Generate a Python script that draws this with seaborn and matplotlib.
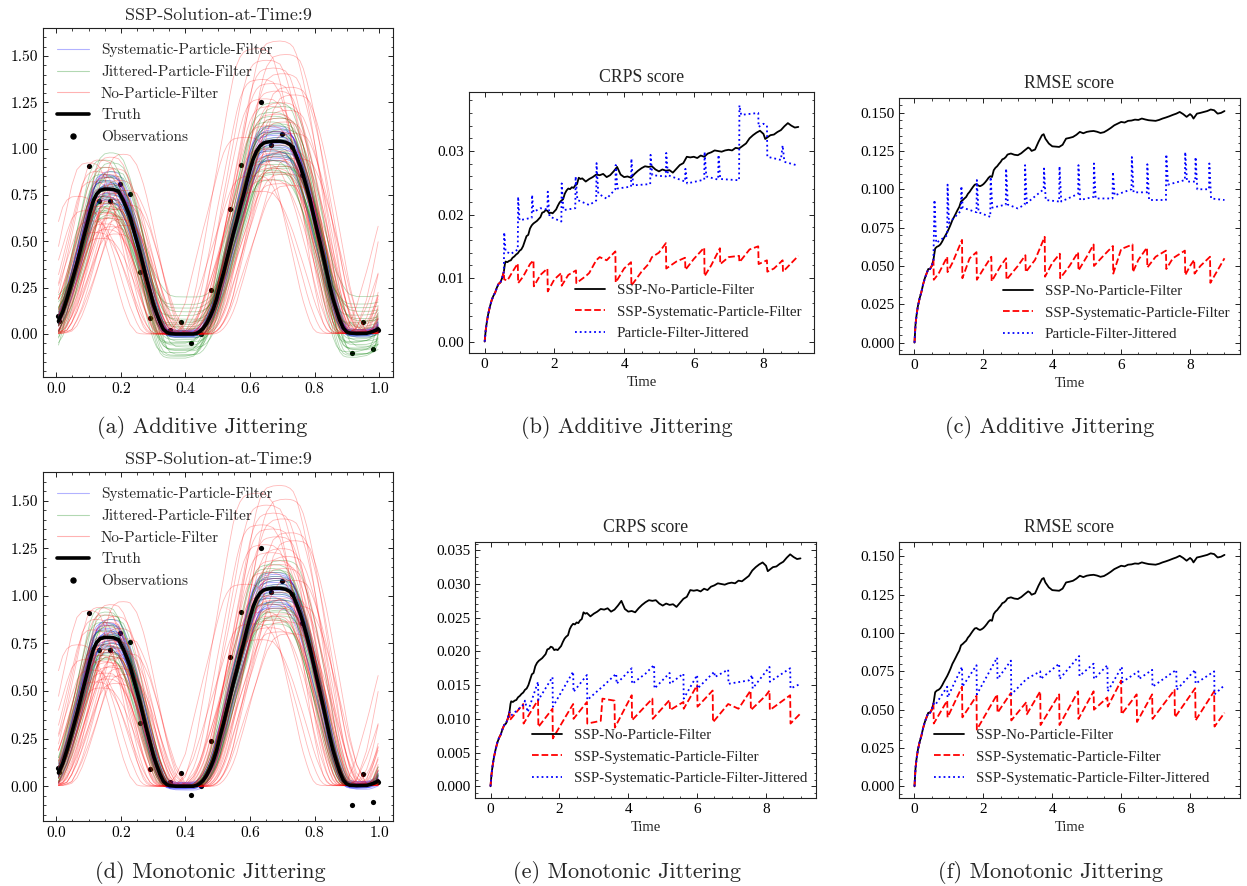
import numpy as np
import pandas as pd
import matplotlib
matplotlib.use("Agg")
import matplotlib.pyplot as plt
import seaborn as sns
from matplotlib.lines import Line2D
from matplotlib.ticker import AutoMinorLocator

# ------------------------------------------------------------------ data
truth_x = [0.007, 0.02, 0.033, 0.048, 0.064, 0.08, 0.095, 0.105, 0.115, 0.125, 0.136, 0.15, 0.165,
           0.177, 0.193, 0.208, 0.22, 0.229, 0.249, 0.26, 0.27, 0.28, 0.291, 0.301, 0.311, 0.322,
           0.332, 0.343, 0.353, 0.37, 0.4, 0.425, 0.435, 0.445, 0.455, 0.466, 0.477, 0.487, 0.497,
           0.507, 0.518, 0.528, 0.538, 0.548, 0.559, 0.569, 0.58, 0.59, 0.60, 0.61, 0.62, 0.631,
           0.642, 0.652, 0.672, 0.693, 0.71, 0.724, 0.734, 0.744, 0.755, 0.765, 0.776, 0.786, 0.796,
           0.806, 0.817, 0.827, 0.837, 0.847, 0.857, 0.868, 0.878, 0.889, 0.899, 0.909, 0.93, 0.961,
           0.971, 0.981, 0.99, 0.997]
truth_y = [0.07, 0.12, 0.19, 0.28, 0.38, 0.49, 0.59, 0.66, 0.72, 0.755, 0.775, 0.782, 0.782,
           0.78, 0.77, 0.72, 0.67, 0.63, 0.505, 0.435, 0.365, 0.295, 0.225, 0.16, 0.11, 0.06,
           0.025, 0.008, 0.002, 0.0, 0.0, 0.0, 0.004, 0.014, 0.03, 0.058, 0.095, 0.137, 0.19,
           0.26, 0.33, 0.40, 0.47, 0.54, 0.61, 0.68, 0.75, 0.82, 0.885, 0.944, 0.985, 1.014,
           1.03, 1.035, 1.04, 1.04, 1.035, 1.023, 1.0, 0.96, 0.91, 0.856, 0.79, 0.725, 0.65,
           0.575, 0.495, 0.418, 0.34, 0.26, 0.19, 0.128, 0.075, 0.032, 0.012, 0.005, 0.003, 0.004,
           0.008, 0.014, 0.02, 0.028]

obs_x = [0.007, 0.009, 0.102, 0.133, 0.165, 0.196, 0.229, 0.258, 0.291, 0.353, 0.385, 0.417, 0.447,
         0.478, 0.538, 0.571, 0.634, 0.666, 0.698, 0.729, 0.76, 0.917, 0.949, 0.98, 0.995]
obs_y = [0.096, 0.072, 0.909, 0.716, 0.716, 0.807, 0.756, 0.333, 0.088, 0.023, 0.067, -0.047, 0.0,
         0.237, 0.677, 0.914, 1.251, 1.019, 1.079, 1.009, 0.86, -0.1, 0.065, -0.082, 0.023]

# ensemble members (estimated spread: phase shift, amplitude of first / second bump, valley offset)
red_shift = [-0.095, -0.07, -0.06, -0.05, -0.045, -0.04, -0.035, -0.03, -0.028, -0.025, -0.02, -0.017,
             -0.015, -0.012, -0.01, -0.008, -0.006, -0.004, -0.002, 0.0, 0.002, 0.004, 0.006, 0.008,
             0.01, 0.012, 0.015, 0.018, 0.02, 0.022, 0.025, 0.028, 0.03, 0.034, 0.038, 0.042, 0.046,
             0.05, 0.055, 0.062]
red_amp1 = [0.95, 0.85, 1.18, 0.78, 1.05, 0.7, 1.12, 0.88, 0.92, 1.2, 0.66, 0.84, 1.0, 1.15, 0.76,
            0.95, 1.08, 0.72, 0.9, 0.83, 1.1, 0.8, 0.98, 1.22, 0.87, 0.74, 1.03, 0.93, 0.81, 1.14,
            0.69, 0.97, 0.86, 1.06, 0.79, 0.91, 1.24, 0.75, 0.99, 0.89]
red_amp2 = [1.02, 0.82, 1.48, 0.74, 1.32, 0.88, 1.22, 0.96, 1.42, 1.08, 0.8, 1.18, 0.92, 1.3, 0.86,
            1.38, 1.0, 0.84, 1.14, 0.94, 1.26, 1.05, 0.9, 1.52, 1.12, 0.78, 1.2, 0.98, 1.35, 0.87,
            1.1, 1.45, 0.83, 1.16, 0.95, 1.28, 0.77, 1.04, 1.24, 0.91]

grnA_shift = [-0.022, -0.018, -0.015, -0.012, -0.01, -0.008, -0.006, -0.004, -0.002, 0.0, 0.001, 0.003,
              0.005, 0.007, 0.009, 0.011, 0.013, 0.015, 0.018, 0.021, -0.014, -0.007, 0.004, 0.012,
              -0.003, 0.008, -0.011, 0.016, -0.005, 0.002]
grnA_amp1 = [0.95, 1.1, 0.85, 1.2, 0.9, 1.05, 0.8, 1.0, 1.15, 0.88, 1.02, 0.93, 1.08, 0.82, 1.25,
             0.97, 0.86, 1.12, 1.0, 0.9, 1.06, 0.84, 0.96, 1.18, 0.91, 1.03, 0.87, 1.09, 0.94, 0.99]
grnA_amp2 = [0.9, 1.1, 0.85, 1.15, 0.95, 1.05, 0.8, 1.0, 1.2, 0.88, 0.98, 1.08, 0.92, 0.84, 1.12,
             1.02, 0.87, 1.18, 0.94, 1.06, 0.96, 1.13, 0.83, 1.01, 0.9, 1.09, 0.97, 0.86, 1.04, 0.93]
grnA_off = [-0.1, -0.05, 0.02, -0.12, 0.06, -0.08, 0.1, -0.03, 0.0, -0.06, 0.04, -0.09, 0.14, -0.02,
            -0.11, 0.08, -0.04, 0.2, -0.07, 0.03, -0.13, 0.05, -0.01, 0.12, -0.085, 0.01, -0.045, 0.07,
            -0.115, 0.16]

grnD_shift = [-0.02, -0.016, -0.013, -0.01, -0.008, -0.006, -0.004, -0.002, 0.0, 0.002, 0.004, 0.006,
              0.008, 0.01, 0.013, 0.016, 0.019, -0.012, 0.003, -0.005, 0.011, 0.007, -0.009, 0.001]
grnD_amp1 = [0.95, 1.1, 0.88, 1.2, 0.92, 1.05, 0.85, 1.0, 1.15, 0.9, 1.02, 0.96, 1.08, 0.87, 1.12,
             0.98, 0.93, 1.04, 0.89, 1.17, 0.94, 1.01, 0.86, 1.07]
grnD_amp2 = [0.92, 1.1, 0.85, 1.12, 0.95, 1.05, 0.82, 1.0, 1.08, 0.88, 0.98, 1.04, 0.9, 0.86, 1.02,
             0.94, 1.14, 0.84, 0.97, 1.06, 0.89, 1.01, 0.93, 1.09]

blu_shift = [-0.012, -0.009, -0.007, -0.005, -0.003, -0.001, 0.0, 0.002, 0.004, 0.006, 0.008, 0.01,
             0.012, -0.004, 0.003, -0.008, 0.007, 0.001, -0.002, 0.005]
blu_amp1 = [0.95, 1.05, 0.92, 1.1, 1.0, 0.97, 1.08, 0.94, 1.02, 1.12, 0.9, 1.04, 0.98, 1.06, 0.93,
            1.01, 0.96, 1.09, 0.99, 1.03]
blu_amp2 = [0.95, 1.05, 0.9, 1.08, 1.0, 0.93, 1.06, 0.97, 1.02, 0.91, 1.04, 0.99, 0.94, 1.07, 0.96,
            1.03, 0.92, 1.01, 0.98, 1.05]
blu_off = [0.01, -0.01, 0.02, 0.0, -0.015, 0.015, 0.005, -0.005, 0.0, 0.01, -0.02, 0.02, -0.01, 0.0,
           0.012, -0.008, 0.004, -0.012, 0.008, -0.003]

# ---- time series
early_t = [0, 0.03, 0.06, 0.1, 0.15, 0.2, 0.25, 0.3, 0.35, 0.4, 0.45, 0.5, 0.55]
crps_early = [0, 0.0018, 0.003, 0.0043, 0.0055, 0.0065, 0.0072, 0.0077, 0.0085, 0.0091, 0.0093, 0.0100, 0.0110]
rmse_early = [0, 0.012, 0.018, 0.024, 0.029, 0.033, 0.038, 0.042, 0.045, 0.048, 0.048, 0.050, 0.054]

crps_nopf_t = [0.58, 0.6, 0.65, 0.7, 0.75, 0.8, 0.85, 0.9, 0.95, 1.0, 1.05, 1.1, 1.15, 1.2, 1.25, 1.3,
               1.35, 1.4, 1.45, 1.5, 1.55, 1.6, 1.65, 1.7, 1.75, 1.8, 1.85, 1.9, 1.95, 2.0, 2.05, 2.1,
               2.15, 2.2, 2.25, 2.3, 2.35, 2.4, 2.45, 2.5, 2.55, 2.6, 2.65, 2.7, 2.75, 2.8, 2.9, 3.0,
               3.1, 3.2, 3.3, 3.4, 3.5, 3.6, 3.7, 3.8, 3.85, 3.9, 4.0, 4.1, 4.2, 4.3, 4.4, 4.5, 4.6,
               4.7, 4.8, 4.9, 5.0, 5.1, 5.2, 5.3, 5.4, 5.5, 5.6, 5.7, 5.8, 5.9, 6.0, 6.1, 6.2, 6.3,
               6.4, 6.5, 6.6, 6.7, 6.8, 6.9, 7.0, 7.1, 7.2, 7.3, 7.4, 7.5, 7.6, 7.7, 7.8, 7.9, 8.0,
               8.05, 8.1, 8.2, 8.3, 8.4, 8.5, 8.6, 8.7, 8.8, 8.9, 9.0]
crps_nopf_v = [0.0122, 0.0126, 0.0125, 0.0127, 0.0128, 0.0132, 0.0134, 0.0137, 0.0139, 0.0143, 0.0145,
               0.015, 0.0158, 0.0166, 0.0168, 0.0178, 0.0183, 0.0186, 0.0188, 0.019, 0.0193, 0.0196,
               0.0203, 0.0204, 0.0207, 0.0206, 0.0202, 0.0203, 0.0202, 0.0205, 0.0208, 0.0214, 0.0219,
               0.0222, 0.0224, 0.0233, 0.0238, 0.0241, 0.024, 0.0243, 0.0242, 0.0246, 0.0248, 0.0258,
               0.0256, 0.0257, 0.0252, 0.0256, 0.0259, 0.0263, 0.0262, 0.0264, 0.0259, 0.0262, 0.0268,
               0.0275, 0.0269, 0.0263, 0.0259, 0.026, 0.0258, 0.0264, 0.0269, 0.0273, 0.0276, 0.0275,
               0.0276, 0.0271, 0.0268, 0.0271, 0.0269, 0.027, 0.0266, 0.0272, 0.0278, 0.0281, 0.0291,
               0.029, 0.0291, 0.0289, 0.0293, 0.0291, 0.0296, 0.0298, 0.0301, 0.03, 0.0299, 0.0301,
               0.0302, 0.0301, 0.0305, 0.0304, 0.0308, 0.0312, 0.032, 0.0325, 0.0329, 0.0332, 0.0327,
               0.0319, 0.0321, 0.0325, 0.0326, 0.033, 0.0333, 0.0339, 0.0344, 0.034, 0.0337, 0.0338]

rmse_nopf_t = [0.6, 0.65, 0.7, 0.75, 0.8, 0.85, 0.9, 0.95, 1.0, 1.05, 1.1, 1.15, 1.2, 1.25, 1.3, 1.35,
               1.4, 1.45, 1.5, 1.55, 1.6, 1.65, 1.7, 1.75, 1.8, 1.85, 1.9, 1.95, 2.0, 2.05, 2.1, 2.15,
               2.2, 2.25, 2.3, 2.35, 2.4, 2.45, 2.5, 2.55, 2.6, 2.65, 2.7, 2.75, 2.8, 2.9, 3.0, 3.1,
               3.2, 3.3, 3.35, 3.4, 3.5, 3.6, 3.7, 3.75, 3.8, 3.9, 4.0, 4.1, 4.2, 4.3, 4.4, 4.5, 4.6,
               4.7, 4.8, 4.9, 5.0, 5.1, 5.2, 5.3, 5.4, 5.5, 5.6, 5.7, 5.8, 5.9, 6.0, 6.1, 6.2, 6.3,
               6.4, 6.5, 6.6, 6.7, 6.8, 6.9, 7.0, 7.1, 7.2, 7.3, 7.4, 7.5, 7.6, 7.7, 7.8, 7.9, 8.0,
               8.05, 8.1, 8.2, 8.3, 8.4, 8.5, 8.6, 8.7, 8.8, 8.9, 9.0]
rmse_nopf_v = [0.0614, 0.0625, 0.063, 0.064, 0.0658, 0.068, 0.070, 0.072, 0.0744, 0.077, 0.0799, 0.082,
               0.0842, 0.0865, 0.0885, 0.092, 0.0929, 0.094, 0.095, 0.097, 0.0983, 0.1, 0.1016, 0.103,
               0.1033, 0.1025, 0.102, 0.1025, 0.1033, 0.1045, 0.1059, 0.1075, 0.1085, 0.108, 0.1124,
               0.114, 0.115, 0.1165, 0.1178, 0.1195, 0.12, 0.121, 0.1226, 0.123, 0.1233, 0.1225, 0.1222,
               0.1235, 0.1254, 0.1272, 0.1265, 0.125, 0.1259, 0.1309, 0.1352, 0.1359, 0.133, 0.1298,
               0.128, 0.1278, 0.1276, 0.129, 0.133, 0.1335, 0.1341, 0.1355, 0.1374, 0.1365, 0.1374,
               0.1378, 0.138, 0.1375, 0.1367, 0.1372, 0.1385, 0.14, 0.1417, 0.1428, 0.1439, 0.1435,
               0.1446, 0.1448, 0.1454, 0.1452, 0.1461, 0.1455, 0.145, 0.1448, 0.1446, 0.1452, 0.1461,
               0.1468, 0.1476, 0.1485, 0.1493, 0.1504, 0.149, 0.1472, 0.149, 0.148, 0.1461, 0.1493,
               0.1498, 0.1504, 0.151, 0.152, 0.1515, 0.1493, 0.1498, 0.151]

# (b) additive, CRPS
crps_sys_add_t = [0.56, 0.65, 0.8, 0.95, 0.96, 1.1, 1.3, 1.4, 1.41, 1.6, 1.8, 1.81, 2.0, 2.2, 2.21, 2.4,
                  2.62, 2.63, 2.9, 3.0, 3.2, 3.3, 3.5, 3.75, 3.76, 4.0, 4.2, 4.21, 4.5, 4.7, 4.8, 5.0,
                  5.2, 5.21, 5.5, 5.75, 5.76, 6.0, 6.3, 6.31, 6.5, 6.75, 6.76, 7.0, 7.3, 7.31, 7.6,
                  7.85, 7.86, 8.1, 8.11, 8.3, 8.55, 8.56, 9.0]
crps_sys_add_v = [0.0098, 0.0096, 0.011, 0.0123, 0.0092, 0.0102, 0.0122, 0.0128, 0.0087, 0.0105, 0.0115,
                  0.0079, 0.0098, 0.0108, 0.0088, 0.0105, 0.0112, 0.0092, 0.0103, 0.0108, 0.0128, 0.0133,
                  0.0128, 0.0142, 0.0093, 0.0115, 0.0125, 0.0088, 0.011, 0.0122, 0.0133, 0.014, 0.0155,
                  0.0115, 0.0126, 0.0132, 0.0113, 0.013, 0.0148, 0.0103, 0.012, 0.0147, 0.0122, 0.0133,
                  0.0135, 0.0125, 0.0145, 0.015, 0.0122, 0.0128, 0.011, 0.0115, 0.0128, 0.011, 0.0135]
crps_jit_add_t = [0.56, 0.6, 0.75, 0.95, 0.96, 1.0, 1.35, 1.36, 1.4, 1.6, 1.8, 1.81, 1.86, 2.2, 2.21, 2.26,
                  2.6, 2.61, 2.66, 3.0, 3.2, 3.21, 3.26, 3.5, 3.75, 3.76, 3.81, 4.2, 4.21, 4.26, 4.75,
                  4.76, 4.81, 5.2, 5.21, 5.26, 5.75, 5.76, 5.81, 6.3, 6.31, 6.36, 6.7, 6.71, 6.76, 7.3,
                  7.31, 7.36, 7.85, 7.86, 8.0, 8.1, 8.11, 8.5, 8.55, 8.6, 9.0]
crps_jit_add_v = [0.0172, 0.0142, 0.0138, 0.0145, 0.0228, 0.0191, 0.0195, 0.0231, 0.0204, 0.021, 0.0208,
                  0.0236, 0.0197, 0.0189, 0.0249, 0.0207, 0.021, 0.026, 0.0223, 0.0215, 0.0222, 0.0281,
                  0.0233, 0.0225, 0.024, 0.0278, 0.0241, 0.0244, 0.0288, 0.0246, 0.0248, 0.0294, 0.0262,
                  0.026, 0.0297, 0.0262, 0.0252, 0.0272, 0.0249, 0.0255, 0.0299, 0.026, 0.0255, 0.0294,
                  0.0256, 0.0254, 0.0372, 0.0357, 0.036, 0.0338, 0.0343, 0.034, 0.0291, 0.0286, 0.0309,
                  0.0283, 0.0277]

# (c) additive, RMSE
rmse_sys_add_t = [0.56, 0.7, 0.95, 0.96, 1.1, 1.38, 1.39, 1.6, 1.8, 1.81, 2.0, 2.23, 2.24, 2.5, 2.66, 2.67,
                  3.0, 3.22, 3.23, 3.5, 3.78, 3.79, 4.0, 4.22, 4.23, 4.5, 4.75, 4.76, 5.0, 5.2, 5.21,
                  5.5, 5.76, 5.77, 6.0, 6.33, 6.34, 6.5, 6.75, 6.76, 7.0, 7.3, 7.31, 7.5, 7.85, 7.86,
                  8.0, 8.12, 8.13, 8.3, 8.58, 8.59, 9.0]
rmse_sys_add_v = [0.041, 0.045, 0.056, 0.046, 0.052, 0.067, 0.042, 0.055, 0.059, 0.041, 0.048, 0.056,
                  0.040, 0.05, 0.055, 0.041, 0.05, 0.057, 0.046, 0.054, 0.069, 0.043, 0.052, 0.058, 0.042,
                  0.05, 0.059, 0.047, 0.056, 0.064, 0.05, 0.057, 0.063, 0.045, 0.061, 0.064, 0.046, 0.054,
                  0.062, 0.049, 0.056, 0.06, 0.048, 0.055, 0.06, 0.044, 0.05, 0.054, 0.045, 0.05, 0.056,
                  0.039, 0.055]
rmse_jit_add_t = [0.58, 0.63, 0.95, 0.96, 1.0, 1.35, 1.36, 1.4, 1.8, 1.81, 1.86, 2.2, 2.21, 2.26, 2.65, 2.66,
                  2.71, 3.0, 3.2, 3.21, 3.26, 3.75, 3.76, 3.81, 4.2, 4.21, 4.26, 4.75, 4.76, 4.81, 5.2,
                  5.21, 5.26, 5.75, 5.76, 5.81, 6.3, 6.31, 6.36, 6.75, 6.76, 6.81, 7.3, 7.31, 7.36, 7.85,
                  7.86, 7.91, 8.15, 8.16, 8.21, 8.55, 8.56, 8.61, 9.0]
rmse_jit_add_v = [0.093, 0.065, 0.07, 0.103, 0.078, 0.086, 0.102, 0.088, 0.085, 0.106, 0.085, 0.082, 0.108,
                  0.088, 0.09, 0.1135, 0.09, 0.0875, 0.09, 0.1157, 0.091, 0.1, 0.1135, 0.093, 0.092, 0.115,
                  0.092, 0.097, 0.1157, 0.093, 0.095, 0.1168, 0.094, 0.094, 0.1113, 0.096, 0.1, 0.121,
                  0.098, 0.098, 0.1163, 0.093, 0.093, 0.1228, 0.103, 0.106, 0.1243, 0.105, 0.105, 0.121,
                  0.1, 0.1, 0.1168, 0.094, 0.093]

# (e) monotonic, CRPS
crps_sys_mon_t = [0.56, 0.95, 0.96, 1.38, 1.39, 1.8, 1.81, 2.2, 2.4, 2.41, 2.8, 2.81, 3.2, 3.25, 3.6, 3.61,
                  4.1, 4.11, 4.7, 4.71, 5.2, 5.21, 5.6, 5.61, 6.0, 6.01, 6.45, 6.46, 6.9, 7.2, 7.55,
                  7.56, 8.0, 8.1, 8.11, 8.7, 8.71, 9.0]
crps_sys_mon_v = [0.0098, 0.0122, 0.0093, 0.0128, 0.0088, 0.0115, 0.0071, 0.0105, 0.0122, 0.01, 0.0125,
                  0.0093, 0.0097, 0.013, 0.0127, 0.0087, 0.0135, 0.0098, 0.013, 0.01, 0.0128, 0.0113,
                  0.0125, 0.0115, 0.015, 0.0118, 0.0142, 0.0095, 0.0122, 0.0115, 0.0142, 0.0113, 0.0135,
                  0.0142, 0.0113, 0.0135, 0.0093, 0.0108]
crps_jit_mon_t = [0.6, 0.98, 1.0, 1.08, 1.38, 1.39, 1.8, 1.81, 2.4, 2.41, 2.8, 2.81, 3.3, 3.65, 3.66, 4.1,
                  4.11, 4.5, 4.75, 4.76, 5.2, 5.21, 5.6, 5.61, 6.0, 6.01, 6.5, 6.51, 6.9, 6.91, 7.5,
                  7.6, 7.61, 8.1, 8.11, 8.7, 8.71, 9.0]
crps_jit_mon_v = [0.0105, 0.0122, 0.0127, 0.011, 0.0155, 0.0128, 0.0162, 0.0118, 0.017, 0.014, 0.0165,
                  0.0128, 0.015, 0.0167, 0.0152, 0.0175, 0.0152, 0.0167, 0.018, 0.0145, 0.0168, 0.0152,
                  0.0167, 0.013, 0.0165, 0.0145, 0.017, 0.0162, 0.0173, 0.0152, 0.0157, 0.0165, 0.0145,
                  0.0177, 0.0155, 0.0175, 0.0145, 0.0152]

# (f) monotonic, RMSE
rmse_sys_mon_t = [0.56, 0.95, 0.96, 1.38, 1.39, 1.8, 1.81, 2.4, 2.41, 2.8, 2.81, 3.25, 3.26, 3.65, 3.66,
                  4.2, 4.21, 4.75, 4.76, 5.2, 5.21, 5.6, 5.61, 6.0, 6.01, 6.45, 6.46, 6.9, 6.91, 7.55,
                  7.56, 8.15, 8.16, 8.7, 8.71, 9.0]
rmse_sys_mon_v = [0.041, 0.056, 0.045, 0.065, 0.045, 0.059, 0.037, 0.06, 0.048, 0.061, 0.043, 0.055, 0.047,
                  0.062, 0.04, 0.06, 0.04, 0.062, 0.044, 0.062, 0.05, 0.058, 0.052, 0.069, 0.047, 0.06,
                  0.042, 0.06, 0.044, 0.063, 0.045, 0.064, 0.043, 0.062, 0.039, 0.048]
rmse_jit_mon_t = [0.6, 0.95, 0.96, 1.38, 1.39, 1.8, 1.81, 2.4, 2.41, 2.8, 2.81, 3.25, 3.65, 3.66, 4.2, 4.21,
                  4.78, 4.79, 5.2, 5.21, 5.6, 5.61, 6.02, 6.03, 6.5, 6.51, 6.9, 6.91, 7.6, 7.61, 8.15,
                  8.16, 8.7, 8.71, 9.0]
rmse_jit_mon_v = [0.053, 0.065, 0.058, 0.078, 0.065, 0.079, 0.06, 0.084, 0.07, 0.082, 0.06, 0.07, 0.075,
                  0.07, 0.08, 0.07, 0.085, 0.072, 0.08, 0.07, 0.079, 0.062, 0.078, 0.068, 0.075, 0.07,
                  0.076, 0.065, 0.076, 0.063, 0.076, 0.067, 0.075, 0.06, 0.066]

# ------------------------------------------------------------------ style
sns.set_style("ticks")
plt.rcParams.update({
    "font.family": ["Liberation Serif", "DejaVu Serif"],
    "axes.unicode_minus": False,
    "axes.linewidth": 0.8,
    "axes.edgecolor": "#222222",
    "xtick.direction": "in", "ytick.direction": "in",
    "xtick.top": True, "ytick.right": True,
    "xtick.minor.visible": True, "ytick.minor.visible": True,
    "xtick.major.size": 3.5, "ytick.major.size": 3.5,
    "xtick.minor.size": 1.8, "ytick.minor.size": 1.8,
    "xtick.major.width": 0.7, "ytick.major.width": 0.7,
    "xtick.minor.width": 0.6, "ytick.minor.width": 0.6,
    "xtick.color": "#222222", "ytick.color": "#222222",
    "xtick.labelcolor": "black", "ytick.labelcolor": "black",
    "legend.frameon": False,
})

W, H = 1247, 886
fig = plt.figure(figsize=(W / 100, H / 100), dpi=100)


def px_axes(left, right, top, bottom):
    return fig.add_axes([left / W, 1 - bottom / H, (right - left) / W, (bottom - top) / H])


CM = "cmr10"


def ensemble_frame(shifts, amp1, amp2, offs):
    tx = np.asarray(truth_x)
    ty = np.asarray(truth_y)
    rows = []
    for k in range(len(shifts)):
        base = np.interp((tx - shifts[k]) % 1.0, tx, ty, period=1.0)
        amp = np.where(tx < 0.42, amp1[k], amp2[k])
        yk = base * amp
        if offs is not None:
            # additive jitter shows up in the valleys of the solution
            yk = yk + offs[k] * np.clip(1.0 - base / 0.35, 0.0, 1.0)
        rows.append(pd.DataFrame({"x": tx, "y": yk, "member": k}))
    return pd.concat(rows, ignore_index=True)


def ensemble_panel(ax, green_df):
    blue_df = ensemble_frame(blu_shift, blu_amp1, blu_amp2, blu_off)
    red_df = ensemble_frame(red_shift, red_amp1, red_amp2, None)
    sns.scatterplot(x=obs_x, y=obs_y, color="black", s=14, linewidth=0, ax=ax, zorder=1.5)
    sns.lineplot(data=blue_df, x="x", y="y", units="member", estimator=None, sort=False,
                 color="blue", lw=0.6, alpha=0.35, ax=ax, legend=False)
    sns.lineplot(data=green_df, x="x", y="y", units="member", estimator=None, sort=False,
                 color="green", lw=0.6, alpha=0.3, ax=ax, legend=False)
    sns.lineplot(data=red_df, x="x", y="y", units="member", estimator=None, sort=False,
                 color="red", lw=0.6, alpha=0.28, ax=ax, legend=False)
    sns.lineplot(x=truth_x, y=truth_y, color="black", lw=2.6, ax=ax, estimator=None, sort=False)
    ax.set_xlim(-0.041, 1.043)
    ax.set_xlabel("")
    ax.set_ylabel("")
    ax.set_xticks([0.0, 0.2, 0.4, 0.6, 0.8, 1.0])
    ax.set_yticks([0.0, 0.25, 0.5, 0.75, 1.0, 1.25, 1.5])
    ax.xaxis.set_minor_locator(AutoMinorLocator())
    ax.yaxis.set_minor_locator(AutoMinorLocator())
    ax.tick_params(labelfontfamily=CM, labelsize=11.2)
    ax.set_title("SSP-Solution-at-Time:9", family=CM, fontsize=13, pad=6)
    handles = [Line2D([], [], color="blue", lw=0.8, alpha=0.3),
               Line2D([], [], color="green", lw=0.8, alpha=0.3),
               Line2D([], [], color="red", lw=0.8, alpha=0.3),
               Line2D([], [], color="black", lw=2.6),
               Line2D([], [], color="black", marker="o", ls="", markersize=3.6)]
    labels = ["Systematic-Particle-Filter", "Jittered-Particle-Filter", "No-Particle-Filter",
              "Truth", "Observations"]
    ax.legend(handles, labels, loc="upper left", bbox_to_anchor=(0.0, 0.995),
              prop={"family": CM, "size": 11}, handlelength=2.1, labelspacing=0.52)


def score_panel(ax, title, nopf_t, nopf_v, sys_t, sys_v, jit_t, jit_v, jit_label,
                ylim, yticks, leg_anchor):
    sns.lineplot(x=nopf_t, y=nopf_v, color="black", lw=1.3, ax=ax, estimator=None, sort=False,
                 label="SSP-No-Particle-Filter")
    sns.lineplot(x=sys_t, y=sys_v, color="red", lw=1.3, linestyle="--", ax=ax, estimator=None,
                 sort=False, label="SSP-Systematic-Particle-Filter")
    sns.lineplot(x=jit_t, y=jit_v, color="blue", lw=1.3, linestyle=":", ax=ax, estimator=None,
                 sort=False, label=jit_label)
    ax.set_xlim(-0.45, 9.45)
    ax.set_ylim(*ylim)
    ax.set_xticks([0, 2, 4, 6, 8])
    ax.set_yticks(yticks)
    ax.xaxis.set_minor_locator(AutoMinorLocator())
    ax.yaxis.set_minor_locator(AutoMinorLocator())
    ax.tick_params(labelsize=11)
    ax.set_xlabel("Time", fontsize=10.5)
    ax.set_ylabel("")
    ax.set_title(title, fontsize=12.8, pad=7.2)
    ax.legend(loc="lower left", bbox_to_anchor=leg_anchor, fontsize=10.8, handlelength=2.0,
              labelspacing=0.55)


# (a)
ax_a = px_axes(43, 393, 28, 377)
ensemble_panel(ax_a, ensemble_frame(grnA_shift, grnA_amp1, grnA_amp2, grnA_off))
ax_a.set_ylim(-0.232, 1.651)

# (d)
ax_d = px_axes(43, 393, 472, 821)
ensemble_panel(ax_d, ensemble_frame(grnD_shift, grnD_amp1, grnD_amp2, None))
ax_d.set_ylim(-0.183, 1.651)

# (b)
ax_b = px_axes(469, 814, 92, 353)
score_panel(ax_b, "CRPS score", early_t + crps_nopf_t, crps_early + crps_nopf_v,
            early_t + crps_sys_add_t, crps_early + crps_sys_add_v,
            early_t + crps_jit_add_t, crps_early + crps_jit_add_v,
            "Particle-Filter-Jittered", (-0.0018, 0.0393), [0, 0.01, 0.02, 0.03], (0.267, -0.003))

# (c)
ax_c = px_axes(899, 1240, 98, 354)
score_panel(ax_c, "RMSE score", early_t + rmse_nopf_t, rmse_early + rmse_nopf_v,
            early_t + rmse_sys_add_t, rmse_early + rmse_sys_add_v,
            early_t + rmse_jit_add_t, rmse_early + rmse_jit_add_v,
            "Particle-Filter-Jittered", (-0.0074, 0.1595),
            [0, 0.025, 0.05, 0.075, 0.1, 0.125, 0.15], (0.264, -0.003))

# (e)
ax_e = px_axes(475, 816, 542, 798)
score_panel(ax_e, "CRPS score", early_t + crps_nopf_t, crps_early + crps_nopf_v,
            early_t + crps_sys_mon_t, crps_early + crps_sys_mon_v,
            early_t + crps_jit_mon_t, crps_early + crps_jit_mon_v,
            "SSP-Systematic-Particle-Filter-Jittered", (-0.00174, 0.03623),
            [0, 0.005, 0.01, 0.015, 0.02, 0.025, 0.03, 0.035], (0.127, -0.003))

# (f)
ax_f = px_axes(899, 1240, 542, 798)
score_panel(ax_f, "RMSE score", early_t + rmse_nopf_t, rmse_early + rmse_nopf_v,
            early_t + rmse_sys_mon_t, rmse_early + rmse_sys_mon_v,
            early_t + rmse_jit_mon_t, rmse_early + rmse_jit_mon_v,
            "SSP-Systematic-Particle-Filter-Jittered", (-0.0076, 0.1594),
            [0, 0.025, 0.05, 0.075, 0.1, 0.125, 0.15], (0.064, -0.003))

# captions
captions = [("(a) Additive Jittering", 202, 428), ("(b) Additive Jittering", 627, 428),
            ("(c) Additive Jittering", 1050, 428), ("(d) Monotonic Jittering", 210, 872),
            ("(e) Monotonic Jittering", 627, 872), ("(f) Monotonic Jittering", 1050, 872)]
for txt, cx, cy in captions:
    fig.text(cx / W, 1 - cy / H, txt, ha="center", va="center", family=CM, fontsize=16)

# make sure the solution panels use Computer Modern tick labels
fig.canvas.draw()
for ax in (ax_a, ax_d):
    for lbl in ax.get_xticklabels() + ax.get_yticklabels():
        lbl.set_family(CM)
        lbl.set_fontsize(11.2)

fig.savefig("out.png", dpi=100)
